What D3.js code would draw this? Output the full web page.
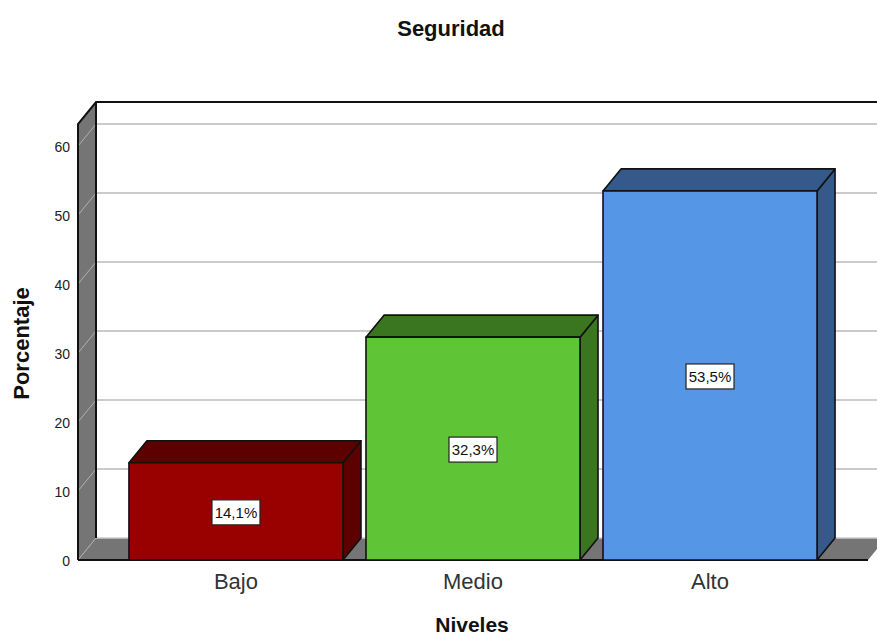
<!DOCTYPE html>
<html lang="es">
<head>
<meta charset="utf-8">
<title>Seguridad</title>
<script src="https://cdn.jsdelivr.net/npm/d3@7"></script>
<style>
  html, body { margin: 0; padding: 0; background: #fff; }
  svg { display: block; font-family: "Liberation Sans", Arial, sans-serif; }
</style>
</head>
<body>
<svg id="chart" width="877" height="637"></svg>
<script>
// Porcentaje por nivel
const categories = ["Bajo", "Medio", "Alto"];
const percentages = [14.1, 32.3, 53.5];
const valueLabels = ["14,1%", "32,3%", "53,5%"];
const tickValues = [0, 10, 20, 30, 40, 50, 60];
const frontColors = ["#990000", "#5fc436", "#5596e6"];
const topColors = ["#5c0000", "#3a7520", "#35598b"];
const sideColors = ["#5c0000", "#3a7520", "#35598b"];

const width = 877, height = 637;
const depthX = 18, depthY = -22;      // oblique offset from the front plane to the back wall
const wallGray = "#757575", gridGray = "#cbcbcb", ink = "#111";

const svg = d3.select("#chart");
const y = d3.scaleLinear().domain([0, 63.2]).range([560, 124]);
const x = d3.scaleBand().domain(categories).range([78, 868]).paddingInner(0.097).paddingOuter(0.215);
const polygon = d3.line();

const x0 = x.range()[0], x1 = x.range()[1];
const yTop = y.range()[1], yBase = y.range()[0];

// Left wall and floor
svg.append("path")
  .attr("d", polygon([[x0, yBase], [x0 + depthX, yBase + depthY], [x1 + depthX, yBase + depthY], [x1, yBase]]) + "Z")
  .attr("fill", wallGray);
svg.append("path")
  .attr("d", polygon([[x0, yTop], [x0 + depthX, yTop + depthY], [x0 + depthX, yBase + depthY], [x0, yBase]]) + "Z")
  .attr("fill", wallGray);

// Gridlines wrap from the wall onto the back plane
const grid = svg.append("g").attr("fill", "none").attr("stroke", gridGray).attr("stroke-width", 2);
grid.selectAll("path.back")
  .data(tickValues)
  .join("path")
  .attr("class", "back")
  .attr("stroke-width", d => d === 0 ? 1.5 : 2)
  .attr("d", d => polygon([[x0 + depthX, y(d) + depthY], [width + 2, y(d) + depthY]]));
grid.selectAll("path.wall")
  .data(tickValues)
  .join("path")
  .attr("class", "wall")
  .attr("stroke-width", 1)
  .attr("stroke", "#b0b0b0")
  .attr("d", d => polygon([[x0, y(d)], [x0 + depthX, y(d) + depthY]]));

// Wall outlines
svg.append("path")
  .attr("d", polygon([[x0, yBase], [x0, yTop], [x0 + depthX, yTop + depthY], [width + 2, yTop + depthY]]))
  .attr("fill", "none").attr("stroke", ink).attr("stroke-width", 2);
svg.append("path")
  .attr("d", polygon([[x0 + depthX, yTop + depthY], [x0 + depthX, yBase + depthY]]))
  .attr("fill", "none").attr("stroke", ink).attr("stroke-width", 2);
svg.append("path")
  .attr("d", polygon([[x0, yBase], [x1, yBase]]))
  .attr("fill", "none").attr("stroke", ink).attr("stroke-width", 2);

// Value axis
const yAxis = svg.append("g")
  .attr("transform", `translate(${x0},0.8)`)
  .call(d3.axisLeft(y).tickValues(tickValues).tickSize(0).tickPadding(8));
yAxis.select(".domain").remove();
yAxis.selectAll("text")
  .attr("font-family", "'Liberation Sans', Arial, sans-serif")
  .attr("font-size", 14).attr("fill", "#222");

// Bars: side, top and front faces
const data = categories.map((c, i) => ({
  c, v: percentages[i], label: valueLabels[i],
  front: frontColors[i], top: topColors[i], side: sideColors[i]
}));
const bars = svg.append("g").selectAll("g").data(data).join("g");
const edge = sel => sel.attr("stroke", ink).attr("stroke-width", 1.6).attr("stroke-linejoin", "round");

bars.append("path").call(edge).attr("fill", d => d.side)
  .attr("d", d => {
    const r = x(d.c) + x.bandwidth();
    return polygon([[r, y(d.v)], [r + depthX, y(d.v) + depthY], [r + depthX, yBase + depthY], [r, yBase]]) + "Z";
  });
bars.append("path").call(edge).attr("fill", d => d.top)
  .attr("d", d => {
    const l = x(d.c), r = l + x.bandwidth();
    return polygon([[l, y(d.v)], [l + depthX, y(d.v) + depthY], [r + depthX, y(d.v) + depthY], [r, y(d.v)]]) + "Z";
  });
bars.append("rect").call(edge).attr("fill", d => d.front)
  .attr("x", d => x(d.c)).attr("y", d => y(d.v))
  .attr("width", x.bandwidth()).attr("height", d => yBase - y(d.v));

// Value labels in white boxes at mid-height
const boxW = 48, boxH = 25;
const labelX = d => x(d.c) + x.bandwidth() / 2;
const labelY = d => y(d.v / 2) + 1;
bars.append("rect")
  .attr("x", d => labelX(d) - boxW / 2).attr("y", d => labelY(d) - boxH / 2)
  .attr("width", boxW).attr("height", boxH)
  .attr("fill", "#fff").attr("stroke", "#222").attr("stroke-width", 1.2);
bars.append("text")
  .attr("x", labelX).attr("y", labelY).attr("dy", "0.36em")
  .attr("text-anchor", "middle").attr("font-size", 15).attr("fill", "#111")
  .text(d => d.label);

// Category labels
svg.append("g").selectAll("text").data(categories).join("text")
  .attr("x", d => x(d) + x.bandwidth() / 2).attr("y", 589)
  .attr("text-anchor", "middle").attr("font-size", 22).attr("fill", "#333")
  .text(d => d);

// Titles
svg.append("text").attr("x", 451).attr("y", 36).attr("text-anchor", "middle")
  .attr("font-size", 22).attr("font-weight", "bold").attr("fill", "#111").text("Seguridad");
svg.append("text").attr("x", 472).attr("y", 632).attr("text-anchor", "middle")
  .attr("font-size", 21).attr("font-weight", "bold").attr("fill", "#111").text("Niveles");
svg.append("text").attr("transform", "translate(29,343.5) rotate(-90)").attr("text-anchor", "middle")
  .attr("font-size", 22).attr("font-weight", "bold").attr("fill", "#111").text("Porcentaje");
</script>
</body>
</html>
